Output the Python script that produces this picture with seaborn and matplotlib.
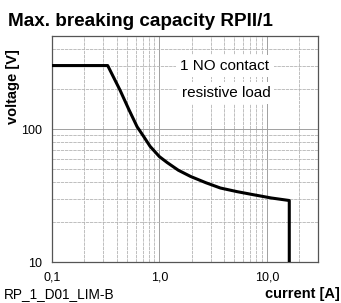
import matplotlib
matplotlib.use("Agg")
import matplotlib.pyplot as plt
import matplotlib.ticker as mticker
import seaborn as sns
import pandas as pd

# limit curve
current = [0.1, 0.33, 0.43, 0.52, 0.62, 0.70, 0.82, 1.0, 1.18, 1.5, 1.95,
           2.7, 3.7, 5.3, 7.6, 11.0, 16.2, 16.2]
voltage = [300, 300, 196, 140, 104, 90, 74, 62, 56, 49, 44,
           39.5, 36, 33.8, 32, 30.3, 29, 10]

x_ticks = [0.1, 1.0, 10.0]
x_labels = ["0,1", "1,0", "10,0"]
y_ticks = [10, 100]
y_labels = ["10", "100"]

df = pd.DataFrame({"current": current, "voltage": voltage})

sns.set_style("white")
plt.rcParams["font.family"] = ["Liberation Sans", "DejaVu Sans"]
plt.rcParams["text.color"] = "black"
plt.rcParams["xtick.labelcolor"] = "black"
plt.rcParams["ytick.labelcolor"] = "black"

fig = plt.figure(figsize=(3.41, 3.03), dpi=100)
ax = fig.add_axes([0.1525, 0.1353, 0.7801, 0.7457])

ax.set_xscale("log")
ax.set_yscale("log")
ax.set_xlim(0.1, 30)
ax.set_ylim(10, 500)

# grid: solid major, dashed minor
ax.grid(which="major", color="#a0a0a0", linewidth=0.7)
ax.grid(which="minor", color="#b4b4b4", linewidth=0.6, linestyle=(0, (4, 1)))
ax.set_axisbelow(True)

sns.lineplot(data=df, x="current", y="voltage", sort=False, estimator=None,
             ax=ax, color="black", linewidth=2.2, zorder=3)

ax.set_xticks(x_ticks)
ax.set_xticklabels(x_labels)
ax.set_yticks(y_ticks)
ax.set_yticklabels(y_labels)
ax.xaxis.set_minor_formatter(mticker.NullFormatter())
ax.yaxis.set_minor_formatter(mticker.NullFormatter())
ax.tick_params(which="major", direction="out", length=4, width=0.8,
               color="#555555", labelsize=9, pad=3, labelcolor="black")
ax.tick_params(which="minor", length=0)
for s in ax.spines.values():
    s.set_color("#555555")
    s.set_linewidth(0.9)

ax.set_xlabel("")
ax.set_ylabel("")

box = dict(facecolor="white", edgecolor="none", pad=3)
ax.text(0.65, 0.867, "1 NO contact", transform=ax.transAxes, ha="center",
        va="center", fontsize=11, bbox=box, zorder=4)
ax.text(0.654, 0.748, "resistive load", transform=ax.transAxes, ha="center",
        va="center", fontsize=11, bbox=box, zorder=4)

fig.text(0.022, 0.93, "Max. breaking capacity RPII/1", fontsize=13.6,
         fontweight="bold", ha="left", va="center")
fig.text(0.039, 0.713, "voltage [V]", fontsize=10.5, fontweight="bold",
         rotation=90, ha="center", va="center")
fig.text(0.997, 0.03, "current [A]", fontsize=10.5, fontweight="bold",
         ha="right", va="center")
fig.text(0.01, 0.03, "RP_1_D01_LIM-B", fontsize=9.8, ha="left", va="center")

fig.savefig("out.png", dpi=100)
